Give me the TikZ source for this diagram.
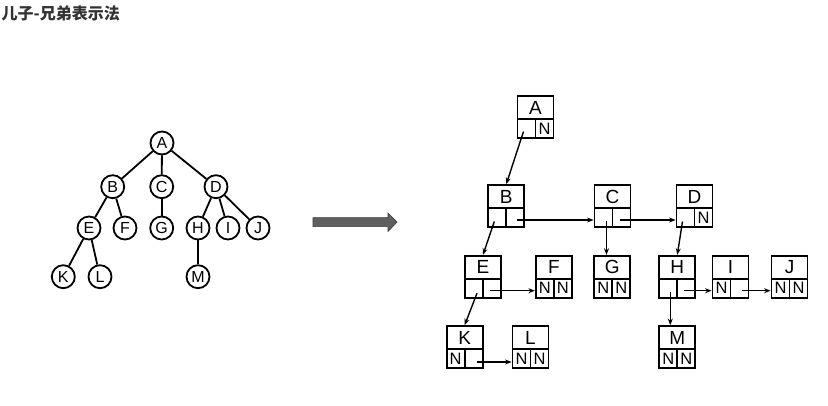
\documentclass[tikz,border=0pt]{standalone}
\usepackage{fontspec}
\setmainfont{Liberation Sans}
\newfontfamily\cjk{Noto Sans CJK SC}
\usetikzlibrary{arrows.meta,calc}
\definecolor{titlec}{HTML}{333333}
\definecolor{bigarrowfill}{HTML}{606060}
\definecolor{bigarrowdraw}{HTML}{3A3A3A}
\newcommand\mkbox[6]{%
  \node[lab] (#1) at (#2,#3+11.5) {#4};
  \node[cell] (#1l) at (#2-9,#3+32.5) {#5};
  \node[cell] (#1r) at (#2+9,#3+32.5) {#6};
}
\begin{document}
\begin{tikzpicture}[x=1pt,y=-1pt,
  tn/.style={circle,draw,line width=1.8pt,minimum size=23pt,inner sep=0pt,font=\fontsize{16}{16}\selectfont},
  te/.style={line width=1.8pt},
  lab/.style={draw,line width=1.8pt,minimum width=36pt,minimum height=23pt,inner sep=0pt,font=\fontsize{19}{19}\selectfont},
  cell/.style={draw,line width=1.8pt,minimum width=18pt,minimum height=19pt,inner sep=0pt,font=\fontsize{16.5}{16.5}\selectfont},
  arr/.style={line width=1.4pt,-{Stealth[length=6.5pt,width=5pt]}}]
\useasboundingbox (0,0) rectangle (828,406);
% title
\node[anchor=west,inner sep=0pt,text=titlec,font=\cjk\bfseries\fontsize{16}{16}\selectfont] (title) at (1.5,13.5) {儿子-兄弟表示法};
% tree
\node[tn] (tA) at (162,143) {A};
\node[tn] (tB) at (112.7,186.7) {B};
\node[tn] (tC) at (161.7,186.7) {C};
\node[tn] (tD) at (216,186.7) {D};
\node[tn] (tE) at (89,228) {E};
\node[tn] (tF) at (125,228) {F};
\node[tn] (tG) at (161.7,228) {G};
\node[tn] (tH) at (198,228) {H};
\node[tn] (tI) at (228,228) {I};
\node[tn] (tJ) at (258,228) {J};
\node[tn] (tK) at (63.3,276.7) {K};
\node[tn] (tL) at (100,276.7) {L};
\node[tn] (tM) at (198,276.7) {M};
\foreach \a/\b in {A/B,A/C,A/D,B/E,B/F,C/G,D/H,D/I,D/J,E/K,E/L,H/M}
  \draw[te] (t\a) -- (t\b);
% big arrow
\filldraw[fill=bigarrowfill,draw=bigarrowdraw,line width=0.6pt]
  (313,217.7) -- (388,217.7) -- (388,213) -- (397,222.2) -- (388,231.4) -- (388,226.7) -- (313,226.7) -- cycle;
% boxes
\mkbox{bA}{535.5}{96}{A}{}{N}
\mkbox{bB}{506.3}{185}{B}{}{}
\mkbox{bC}{612.5}{185}{C}{}{}
\mkbox{bD}{694.5}{185}{D}{}{N}
\mkbox{bE}{483}{255.7}{E}{}{}
\mkbox{bF}{553.8}{255.7}{F}{N}{N}
\mkbox{bG}{612.3}{255.7}{G}{N}{N}
\mkbox{bH}{677.3}{255.7}{H}{}{}
\mkbox{bI}{730.5}{255.7}{I}{N}{}
\mkbox{bJ}{789.5}{255.7}{J}{N}{N}
\mkbox{bK}{464.7}{326}{K}{N}{}
\mkbox{bL}{530.5}{326}{L}{N}{N}
\mkbox{bM}{677.3}{326}{M}{N}{N}
% connectors
\draw[arr] ([shift={(-3,3)}]bAl.center) -- (bB.north);
\draw[arr] ([shift={(-3,4)}]bBl.center) -- (bE.north);
\draw[arr] ([shift={(2,2.5)}]bBr.center) -- ([shift={(0,2.5)}]bCl.west);
\coordinate (cg) at ([shift={(3,4)}]bCl.center);
\draw[arr] (cg) -- (cg |- bG.north);
\draw[arr] ([shift={(-2,2.5)}]bCr.center) -- ([shift={(0,2.5)}]bDl.west);
\draw[arr] ([shift={(-3,4)}]bDl.center) -- (bH.north);
\draw[arr] ([shift={(3,5)}]bEl.center) -- (bK.north);
\draw[arr] ([shift={(-2,2.5)}]bEr.center) -- ([shift={(0,2.5)}]bFl.west);
\draw[arr] ([shift={(3,3.5)}]bKr.center) -- ([shift={(0,3.5)}]bLl.west);
\coordinate (hm) at ([shift={(2,4)}]bHl.center);
\draw[arr] (hm) -- (hm |- bM.north);
\draw[arr] ([shift={(-2,2.5)}]bHr.center) -- ([shift={(0,2.5)}]bIl.west);
\draw[arr] ([shift={(2,2.5)}]bIr.center) -- ([shift={(0,2.5)}]bJl.west);
\end{tikzpicture}
\end{document}
